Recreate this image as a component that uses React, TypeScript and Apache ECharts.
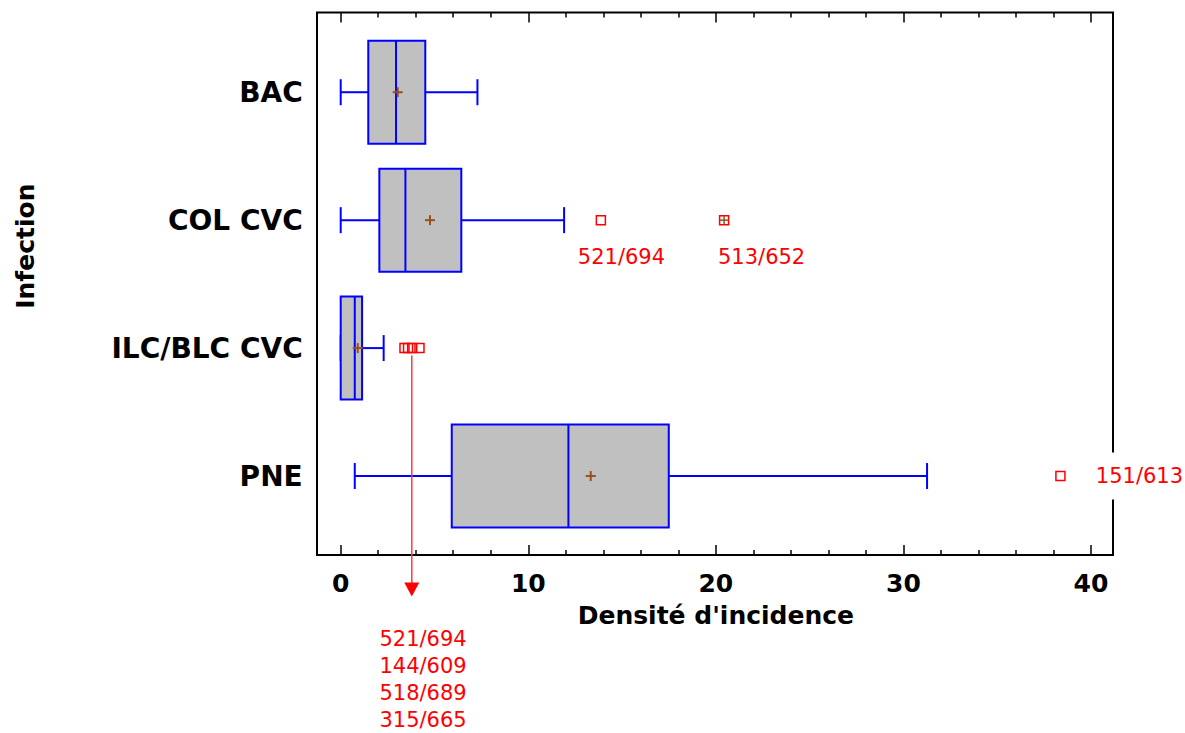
import React, { useEffect, useRef } from 'react';
import * as echarts from 'echarts';

// ---- data ----
const categories = ['BAC', 'COL CVC', 'ILC/BLC CVC', 'PNE'];
const whiskerLow = [0, 0, 0, 0.75];
const q1 = [1.47, 2.06, 0, 5.92];
const median = [2.95, 3.45, 0.75, 12.14];
const q3 = [4.51, 6.43, 1.14, 17.49];
const whiskerHigh = [7.29, 11.91, 2.29, 31.26];
const means = [3.04, 4.76, 0.91, 13.33];

const outlierCategory = ['COL CVC', 'COL CVC', 'ILC/BLC CVC', 'ILC/BLC CVC', 'ILC/BLC CVC', 'ILC/BLC CVC', 'PNE'];
const outlierValues = [13.87, 20.44, 3.4, 3.59, 3.81, 4.2, 38.37];
const outlierFarOut = [false, true, false, false, false, false, false];
const outlierLabels = ['521/694', '513/652', '', '', '', '', '151/613'];

const calloutCategory = 'ILC/BLC CVC';
const calloutValue = 3.79;
const calloutLabels = ['521/694', '144/609', '518/689', '315/665'];

const xTickMin = 0;
const xTickMax = 40;
const xTickStep = 10;

// ---- layout / style constants ----
const outlierLabelDx = [20.6, 37.5, 0, 0, 0, 0, 79];
const outlierLabelDy = [37, 37, 0, 0, 0, 0, 0];

const BLUE = '#0000ff';
const GRAY = '#c0c0c0';
const RED = '#ff0000';
const BROWN = '#9c4f1c';
const BOX_H = 103;
const CAP = 13;
const FONT = 'DejaVu Sans';

export default function App() {
  const ref = useRef<HTMLDivElement>(null);

  useEffect(() => {
    const chart = echarts.init(ref.current as HTMLDivElement, null, { renderer: 'svg' });

    const boxData = categories.map((_, i) => [i, whiskerLow[i], q1[i], median[i], q3[i], whiskerHigh[i], means[i]]);
    const outlierData = outlierValues.map((v, i) => [v, categories.indexOf(outlierCategory[i]), outlierFarOut[i] ? 1 : 0, i]);
    const calloutData = [[calloutValue, categories.indexOf(calloutCategory)]];

    const tickAxisCommon = {
      type: 'value',
      gridIndex: 0,
      min: xTickMin,
      max: xTickMax,
      interval: xTickStep,
      axisLine: { show: false },
      splitLine: { show: false },
      axisTick: { show: true, inside: true, length: 10, lineStyle: { color: '#000', width: 1.5 } },
      minorTick: { show: true, splitNumber: 5, length: 5, lineStyle: { color: '#000', width: 1.5 } },
    };

    const option: any = {
      animation: false,
      backgroundColor: '#fff',
      grid: [
        { left: 340.7, right: 94, top: 28.25, bottom: 193, show: false },
        { left: 317, right: 72, top: 12.5, bottom: 178, show: true, borderColor: '#000', borderWidth: 2, backgroundColor: 'transparent' },
      ],
      xAxis: [
        {
          ...tickAxisCommon,
          position: 'bottom',
          offset: 15,
          axisLabel: { show: true, margin: 16, color: '#000', fontFamily: FONT, fontWeight: 'bold', fontSize: 25 },
          name: "Densité d'incidence",
          nameLocation: 'middle',
          nameGap: 48,
          nameTextStyle: { color: '#000', fontFamily: FONT, fontWeight: 'bold', fontSize: 25 },
        },
        {
          ...tickAxisCommon,
          position: 'top',
          offset: 15.75,
          axisLabel: { show: false },
        },
        { type: 'value', gridIndex: 1, show: false, min: 0, max: 1 },
      ],
      yAxis: [
        {
          type: 'category',
          gridIndex: 0,
          data: categories,
          inverse: true,
          axisLine: { show: false },
          axisTick: { show: false },
          splitLine: { show: false },
          axisLabel: { margin: 38, color: '#000', fontFamily: FONT, fontWeight: 'bold', fontSize: 28 },
          name: 'Infection',
          nameLocation: 'middle',
          nameRotate: 90,
          nameGap: 303,
          nameTextStyle: { color: '#000', fontFamily: FONT, fontWeight: 'bold', fontSize: 25, padding: [0, 0, 0, 76] },
        },
        { type: 'value', gridIndex: 1, show: false, min: 0, max: 1 },
      ],
      series: [
        {
          type: 'custom',
          name: 'boxes',
          xAxisIndex: 0,
          yAxisIndex: 0,
          data: boxData,
          encode: { x: [1, 2, 3, 4, 5, 6], y: 0 },
          renderItem: (params: any, api: any) => {
            const cat = api.value(0);
            const px = (k: number) => api.coord([api.value(k), cat]);
            const [xwl, yc] = px(1);
            const xq1 = px(2)[0];
            const xmed = px(3)[0];
            const xq3 = px(4)[0];
            const xwh = px(5)[0];
            const xmean = px(6)[0];
            const half = BOX_H / 2;
            const ls = { stroke: BLUE, lineWidth: 2 };
            return {
              type: 'group',
              children: [
                { type: 'line', shape: { x1: xwl, y1: yc, x2: xq1, y2: yc }, style: ls },
                { type: 'line', shape: { x1: xq3, y1: yc, x2: xwh, y2: yc }, style: ls },
                { type: 'line', shape: { x1: xwl, y1: yc - CAP, x2: xwl, y2: yc + CAP }, style: ls },
                { type: 'line', shape: { x1: xwh, y1: yc - CAP, x2: xwh, y2: yc + CAP }, style: ls },
                { type: 'rect', shape: { x: xq1, y: yc - half, width: xq3 - xq1, height: BOX_H }, style: { fill: GRAY, stroke: BLUE, lineWidth: 2 } },
                { type: 'line', shape: { x1: xmed, y1: yc - half, x2: xmed, y2: yc + half }, style: ls },
                { type: 'line', shape: { x1: xmean - 5, y1: yc, x2: xmean + 5, y2: yc }, style: { stroke: BROWN, lineWidth: 2 } },
                { type: 'line', shape: { x1: xmean, y1: yc - 5, x2: xmean, y2: yc + 5 }, style: { stroke: BROWN, lineWidth: 2 } },
              ],
            };
          },
        },
        {
          type: 'custom',
          name: 'outliers',
          xAxisIndex: 0,
          yAxisIndex: 0,
          data: outlierData,
          encode: { x: 0, y: 1 },
          renderItem: (params: any, api: any) => {
            const [x, y] = api.coord([api.value(0), api.value(1)]);
            const far = api.value(2) === 1;
            const idx = api.value(3);
            const s = 4.5;
            const children: any[] = [
              { type: 'rect', shape: { x: x - s, y: y - s, width: 2 * s, height: 2 * s }, style: { fill: 'none', stroke: RED, lineWidth: 1.5 } },
            ];
            if (far) {
              children.push(
                { type: 'line', shape: { x1: x - s, y1: y, x2: x + s, y2: y }, style: { stroke: BROWN, lineWidth: 1.5 } },
                { type: 'line', shape: { x1: x, y1: y - s, x2: x, y2: y + s }, style: { stroke: BROWN, lineWidth: 1.5 } },
              );
            }
            const label = outlierLabels[idx];
            if (label) {
              children.push({
                type: 'text',
                z2: 10,
                style: {
                  text: label,
                  x: x + outlierLabelDx[idx],
                  y: y + outlierLabelDy[idx],
                  align: 'center',
                  verticalAlign: 'middle',
                  fill: RED,
                  fontFamily: FONT,
                  fontSize: 21,
                  backgroundColor: '#fff',
                  padding: [13, 3],
                },
              });
            }
            return { type: 'group', children };
          },
        },
        {
          type: 'custom',
          name: 'callout',
          xAxisIndex: 0,
          yAxisIndex: 0,
          data: calloutData,
          encode: { x: 0, y: 1 },
          renderItem: (params: any, api: any) => {
            const [x, y] = api.coord([api.value(0), api.value(1)]);
            const headTop = y + 234.5;
            const tip = y + 248.5;
            const children: any[] = [
              { type: 'line', shape: { x1: x, y1: y + 7.5, x2: x, y2: headTop + 2 }, style: { stroke: '#ff3a3a', lineWidth: 1.5 } },
              { type: 'polygon', shape: { points: [[x - 7.5, headTop], [x + 7.5, headTop], [x, tip]] }, style: { fill: RED } },
            ];
            calloutLabels.forEach((t, k) => {
              children.push({
                type: 'text',
                style: {
                  text: t,
                  x: x + 11.3,
                  y: y + 290.5 + k * 27.3,
                  align: 'center',
                  verticalAlign: 'middle',
                  fill: RED,
                  fontFamily: FONT,
                  fontSize: 21,
                },
              });
            });
            return { type: 'group', children };
          },
        },
      ],
    };

    chart.setOption(option);
    return () => {
      chart.dispose();
    };
  }, []);

  return <div ref={ref} style={{ position: 'fixed', left: 0, top: 0, width: 1185, height: 733 }} />;
}
